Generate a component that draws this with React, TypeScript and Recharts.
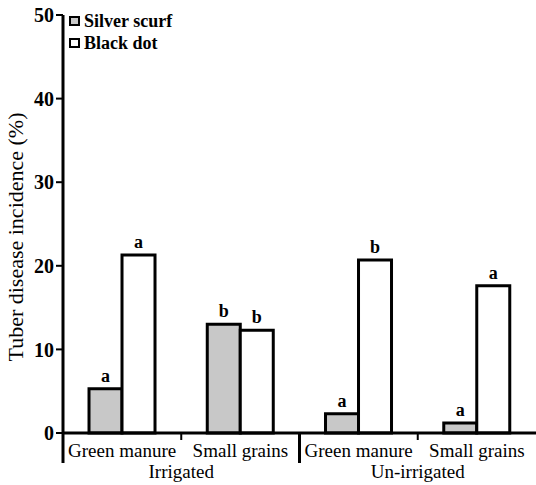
import { BarChart, Bar, XAxis, YAxis, LabelList } from "recharts";

const categories = ["Green manure", "Small grains", "Green manure", "Small grains"];
const groups = ["Irrigated", "Un-irrigated"];
const silverScurf = [5.3, 13.0, 2.3, 1.2];
const blackDot = [21.3, 12.3, 20.7, 17.6];
const silverLetters = ["a", "b", "a", "a"];
const blackLetters = ["a", "b", "b", "a"];
const yTicks = [0, 10, 20, 30, 40, 50];
const legendItems = [
  { label: "Silver scurf", fill: "#c8c8c8" },
  { label: "Black dot", fill: "#fff" },
];

const data = categories.map((c, i) => ({
  name: c,
  silver: silverScurf[i],
  black: blackDot[i],
  silverLetter: silverLetters[i],
  blackLetter: blackLetters[i],
}));

const W = 536;
const H = 485;
const AXIS_W = 63;
const BAND = (W - AXIS_W) / categories.length;
const FONT = "Liberation Serif, DejaVu Serif, serif";

function CategoryTick(props: any) {
  const { x, y, payload, index } = props;
  const left = x - BAND / 2;
  const groupStart = index % 2 === 0;
  return (
    <g>
      <line
        x1={left}
        x2={left}
        y1={y}
        y2={groupStart ? y + 30 : y + 7}
        stroke="#000"
        strokeWidth={groupStart ? 3 : 2}
      />
      <text x={x} y={y + 24} textAnchor="middle" fontFamily={FONT} fontSize={19} fill="#000">
        {payload.value}
      </text>
      {groupStart && (
        <text x={x + BAND / 2} y={y + 45} textAnchor="middle" fontFamily={FONT} fontSize={19} fill="#000">
          {groups[index / 2]}
        </text>
      )}
    </g>
  );
}

function letterLabel(props: any) {
  const { x, y, width, value } = props;
  return (
    <text
      x={x + width / 2}
      y={y - 7}
      textAnchor="middle"
      fontFamily={FONT}
      fontWeight="bold"
      fontSize={18}
      fill="#000"
    >
      {value}
    </text>
  );
}

function yLabel(props: any) {
  const { viewBox } = props;
  const cy = viewBox.y + viewBox.height / 2 + 13;
  return (
    <text
      x={16}
      y={cy}
      transform={`rotate(-90, 16, ${cy})`}
      textAnchor="middle"
      dominantBaseline="central"
      fontFamily={FONT}
      fontSize={20}
      textLength={249}
      lengthAdjust="spacingAndGlyphs"
      fill="#000"
    >
      Tuber disease incidence (%)
    </text>
  );
}

function LegendBox() {
  return (
    <div
      style={{
        position: "absolute",
        left: 69,
        top: 10,
        fontFamily: FONT,
        fontSize: 18,
        fontWeight: "bold",
        color: "#000",
      }}
    >
      {legendItems.map((it) => (
        <div key={it.label} style={{ display: "flex", alignItems: "center", height: 22 }}>
          <span
            style={{
              display: "inline-block",
              width: 7,
              height: 6,
              border: "2px solid #000",
              background: it.fill,
              marginRight: 4,
            }}
          />
          <span>{it.label}</span>
        </div>
      ))}
    </div>
  );
}

export default function App() {
  return (
    <div style={{ position: "absolute", left: 0, top: 0, width: W, height: H, background: "#fff" }}>
      <BarChart
        width={W}
        height={H}
        data={data}
        margin={{ top: 15, right: 0, left: 0, bottom: 0 }}
        barCategoryGap="22%"
        barGap={0}
      >
        <XAxis
          dataKey="name"
          height={52}
          tickLine={false}
          tickSize={0}
          tickMargin={0}
          axisLine={{ stroke: "#000", strokeWidth: 3 }}
          tick={<CategoryTick />}
          interval={0}
        />
        <YAxis
          width={AXIS_W}
          domain={[0, 50]}
          ticks={yTicks}
          tickSize={7}
          tickMargin={2}
          axisLine={{ stroke: "#000", strokeWidth: 3 }}
          tickLine={{ stroke: "#000", strokeWidth: 2 }}
          tick={{ fontFamily: FONT, fontSize: 20, fontWeight: "bold", fill: "#000" }}
          label={{ content: yLabel }}
        />
        <Bar dataKey="silver" name="Silver scurf" fill="#c8c8c8" stroke="#000" strokeWidth={3} isAnimationActive={false}>
          <LabelList dataKey="silverLetter" content={letterLabel} />
        </Bar>
        <Bar dataKey="black" name="Black dot" fill="#fff" stroke="#000" strokeWidth={3} isAnimationActive={false}>
          <LabelList dataKey="blackLetter" content={letterLabel} />
        </Bar>
      </BarChart>
      <LegendBox />
    </div>
  );
}
